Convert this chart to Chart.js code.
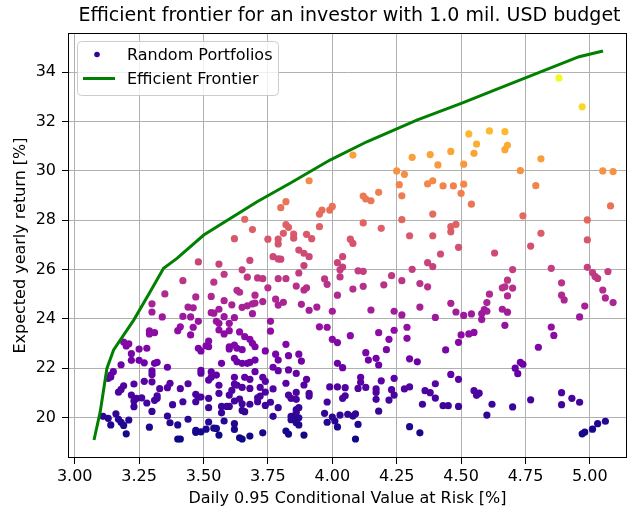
<!DOCTYPE html>
<html>
<head>
<meta charset="utf-8">
<script src="https://cdn.jsdelivr.net/npm/chart.js@4.4.1/dist/chart.umd.min.js"></script>
<style>
  html, body { margin: 0; padding: 0; background: #ffffff; }
  #wrap { width: 635px; height: 512px; position: relative; }
</style>
</head>
<body>
<div id="wrap"><canvas id="chart" width="635" height="512"></canvas></div>
<script>
// ---- text ----
const chartTitle = 'Efficient frontier for an investor with 1.0 mil. USD budget';
const xAxisTitle = 'Daily 0.95 Conditional Value at Risk [%]';
const yAxisTitle = 'Expected yearly return [%]';
const legendLabels = ['Random Portfolios', 'Efficient Frontier'];

// ---- ticks ----
const xTickValues = [3.00, 3.25, 3.50, 3.75, 4.00, 4.25, 4.50, 4.75, 5.00];
const yTickValues = [20, 22, 24, 26, 28, 30, 32, 34];

// ---- random portfolios: daily CVaR [%] and expected yearly return [%] ----
const portfolioRisk = [
  4.88, 4.97, 4.08, 3.91, 4.31, 4.38, 4.41, 4.25, 4.28, 4.26, 4.39, 4.37, 4.18, 4.12, 4.13, 4.15, 4.27, 3.82, 3.80, 3.96,
  3.95, 4.00, 3.99, 4.39, 4.27, 4.12, 4.19, 3.95, 3.82, 3.83, 3.81, 3.85, 3.85, 3.90, 3.92, 3.69, 3.75, 3.79, 4.07, 4.30,
  4.39, 3.66, 3.62,
  4.53, 4.61, 4.67, 4.56, 4.68, 4.67, 4.46, 4.55, 4.81, 4.51, 4.73, 5.05, 5.09, 4.43, 4.47, 4.51, 4.50, 4.79, 4.54, 5.08,
  4.74, 4.99, 4.46, 4.48, 4.46, 4.81, 4.99,
  3.68, 3.48, 3.56, 3.65, 3.58, 3.67, 3.42, 3.54, 3.63, 3.64, 3.35, 3.53, 3.47, 3.58, 3.30, 3.61, 3.44, 3.46, 3.67, 3.69,
  3.70, 3.65, 3.30, 3.56, 3.53, 3.54, 3.69, 3.34, 3.42, 3.45, 3.58, 3.62, 3.55, 3.56, 3.60, 3.48, 3.41, 3.40, 3.46, 3.56,
  3.60, 3.58, 3.64, 3.29, 3.31, 3.29, 3.45, 3.66, 3.68, 3.19, 3.21, 3.20, 3.52, 3.51, 3.60, 3.62, 3.63, 3.28, 3.48, 3.69,
  3.70,
  3.25, 3.22, 3.22, 3.25, 3.27, 3.18, 3.31, 3.32, 3.30, 3.30, 3.36, 3.49, 3.52, 3.49, 3.49, 3.53, 3.53, 3.57, 3.60, 3.65,
  3.62, 3.63, 3.65, 3.67, 3.68, 3.70, 3.15, 3.14, 3.13, 3.14, 3.55, 3.62, 3.66, 3.68, 3.23, 3.27, 3.30, 3.37, 3.44, 3.19,
  3.18, 3.17, 3.52, 3.56, 3.62, 3.63, 3.33, 3.36, 3.41, 3.22, 3.24, 3.23, 3.26, 3.32, 3.32, 3.31, 3.47, 3.48, 3.49, 3.56,
  3.61, 3.60, 3.65, 3.68, 3.28, 3.38, 3.42, 3.47, 3.52, 3.52, 3.57, 3.59, 3.60, 3.62, 3.64, 3.65, 3.68, 3.23, 3.30, 3.11,
  3.13, 3.14, 3.16, 3.17, 3.18, 3.19, 3.21, 3.20, 3.36, 3.37, 3.40, 3.44, 3.29, 3.40, 3.41, 3.47, 3.47, 3.49, 3.51, 3.52,
  3.54, 3.56, 3.57, 3.58, 3.62, 3.62, 3.64, 3.65, 3.68, 3.55, 3.65, 3.66,
  3.79, 3.87, 3.89, 3.91, 3.77, 3.79, 3.80, 3.89, 4.08, 4.04, 4.02, 4.04, 4.03, 4.10, 4.12, 4.31, 4.37, 4.39, 3.87, 3.71,
  3.73, 3.79, 3.82, 3.97, 3.98, 4.03, 4.23, 4.27, 4.34, 4.37, 3.86, 3.75, 3.90, 3.89, 4.08, 4.12, 4.20, 4.02, 3.70, 3.73,
  3.78, 3.79, 3.81, 3.88, 3.91, 3.94, 4.00, 4.15, 4.24, 4.27, 4.34, 4.40, 3.76, 3.76, 3.95, 3.98, 4.07, 4.18, 4.22, 4.24,
  4.29, 4.29, 4.00, 4.02, 3.82,
  3.74, 3.78, 3.79, 3.83, 3.87, 3.88, 3.77, 3.79, 3.70, 3.83, 3.86, 4.02, 4.04, 4.13, 4.14, 4.17, 4.18, 4.21, 4.30, 4.33,
  3.73, 3.74, 3.82, 3.90, 3.89, 4.11, 4.11, 4.19, 4.24, 3.72, 3.77, 3.74, 3.83, 3.84, 3.86, 3.86, 3.91, 3.91, 3.99, 4.02,
  4.05, 4.10, 4.13, 4.17, 4.17, 4.23, 4.24, 4.28, 4.30, 4.36, 4.38, 4.40, 4.40, 3.71, 3.71, 3.72, 3.74, 3.76, 3.79, 3.86,
  3.87, 3.86, 4.04, 4.05, 3.98, 4.17, 4.22, 4.18, 4.35, 3.77, 3.84, 3.85, 3.87, 3.84, 3.86, 3.87, 3.97, 3.98, 4.00, 4.03,
  4.06, 4.08, 4.09, 4.01, 4.02, 4.10, 3.73, 3.82, 3.83, 3.89, 4.09, 4.30, 4.34,
  4.49, 4.42, 4.63, 4.77, 4.70, 4.85, 4.99, 5.01, 5.02, 5.03, 5.07, 4.68, 4.66, 4.67, 4.70, 4.68, 4.61, 4.60, 4.59, 4.60,
  4.89, 4.89, 4.90, 5.05, 5.06, 5.09, 4.46, 4.48, 4.51, 4.54, 4.58, 4.58, 4.66, 4.68, 4.98, 4.96, 4.67, 4.85, 4.86, 4.50,
  4.53, 4.55, 4.49, 4.80, 4.44,
  4.73, 4.74, 4.71, 4.72, 4.46, 4.49, 4.55, 4.57, 4.56, 4.43, 4.45, 4.49, 4.62, 4.70, 4.60, 4.77, 4.89, 4.93, 4.96, 4.89,
  5.06, 5.03, 5.01, 4.98, 4.97
];
const portfolioReturn = [
  33.77, 32.60, 30.64, 29.60, 30.55, 30.66, 30.24, 30.00, 29.86, 29.44, 29.60, 29.47, 29.13, 28.98, 28.86, 28.79, 28.99, 28.75, 28.51, 28.41,
  28.25, 28.56, 28.41, 28.25, 28.02, 27.89, 27.67, 27.74, 27.82, 27.71, 27.47, 27.44, 27.27, 27.43, 27.25, 27.62, 27.23, 27.23, 27.23, 27.37,
  27.37, 28.04, 27.25,
  31.50, 31.62, 31.59, 31.09, 31.04, 30.86, 30.79, 30.71, 30.49, 30.27, 30.01, 30.00, 29.97, 29.39, 29.39, 29.46, 29.09, 29.40, 28.65, 28.58,
  28.18, 28.01, 27.74, 27.83, 27.53, 27.47, 27.20,
  26.37, 26.31, 26.22, 25.99, 25.81, 25.69, 25.55, 25.49, 25.16, 25.08, 25.01, 24.91, 24.89, 24.74, 24.61, 24.57, 24.48, 24.45, 24.53, 24.61,
  24.64, 24.47, 24.28, 24.39, 24.25, 24.23, 24.21, 24.08, 24.10, 24.08, 24.09, 24.05, 23.90, 23.82, 23.82, 23.90, 23.68, 23.52, 23.66, 23.55,
  23.52, 23.39, 23.47, 23.51, 23.44, 23.39, 23.35, 23.28, 23.17, 23.06, 22.99, 22.90, 23.10, 22.91, 22.87, 22.94, 22.81, 22.81, 22.81, 23.01,
  22.87,
  22.78, 22.59, 22.32, 22.32, 22.22, 22.14, 22.20, 22.24, 21.89, 21.75, 22.04, 22.70, 22.87, 21.91, 21.80, 21.85, 21.63, 22.20, 22.78, 22.75,
  22.40, 22.26, 22.20, 22.20, 22.24, 22.33, 21.86, 21.72, 21.59, 21.64, 21.72, 21.63, 21.63, 21.55, 21.36, 21.47, 21.45, 21.39, 21.37, 21.29,
  21.14, 21.03, 21.52, 21.31, 21.36, 21.31, 21.17, 21.21, 21.17, 20.91, 20.78, 20.67, 20.80, 20.88, 20.78, 20.70, 20.94, 20.83, 20.83, 20.98,
  21.10, 20.91, 21.22, 21.18, 20.59, 20.52, 20.64, 20.64, 20.78, 20.40, 20.45, 20.45, 20.45, 20.67, 20.75, 20.56, 20.54, 20.44, 20.25, 20.05,
  19.97, 19.70, 20.15, 19.93, 19.81, 19.68, 19.90, 19.34, 20.06, 19.79, 19.70, 19.93, 19.61, 19.13, 19.13, 19.48, 19.40, 19.42, 19.53, 19.82,
  19.57, 19.29, 20.19, 19.86, 19.75, 19.52, 19.18, 19.13, 19.25, 19.56, 20.29, 20.24,
  27.04, 26.79, 26.66, 26.52, 26.52, 26.43, 26.42, 26.16, 27.06, 26.52, 26.28, 26.10, 25.99, 25.95, 25.93, 26.01, 26.28, 26.12, 25.86, 25.66,
  25.63, 25.63, 25.63, 25.62, 25.40, 25.70, 25.75, 25.55, 25.43, 25.30, 25.33, 25.26, 25.26, 25.17, 25.21, 25.32, 25.38, 24.96, 24.96, 24.70,
  24.80, 24.56, 24.67, 24.59, 24.35, 24.48, 24.31, 24.36, 24.31, 24.16, 24.48, 24.06, 23.90, 23.50, 23.68, 23.66, 23.32, 23.44, 23.17, 23.54,
  23.66, 23.21, 23.17, 23.04, 22.97,
  22.70, 22.57, 22.33, 22.51, 22.57, 22.29, 22.04, 21.90, 21.86, 21.93, 21.79, 22.20, 22.02, 22.63, 22.33, 22.40, 22.13, 22.75, 22.38, 22.26,
  21.63, 21.47, 21.39, 21.55, 21.32, 21.63, 21.43, 21.49, 21.59, 21.22, 21.16, 21.03, 20.91, 20.78, 21.02, 20.74, 20.98, 20.87, 21.24, 21.24,
  21.21, 21.18, 21.22, 21.16, 21.02, 21.13, 20.91, 21.16, 21.24, 21.09, 21.01, 21.37, 20.79, 20.64, 20.80, 20.87, 20.49, 20.62, 20.40, 20.32,
  20.40, 20.21, 20.78, 20.88, 20.63, 20.74, 20.71, 20.26, 20.54, 20.05, 20.05, 19.97, 19.99, 19.91, 19.79, 19.70, 20.17, 19.81, 20.02, 20.10,
  20.13, 20.06, 20.15, 19.86, 19.62, 19.72, 19.38, 19.45, 19.33, 19.29, 19.13, 19.63, 19.38,
  26.90, 26.63, 26.67, 26.95, 26.00, 26.05, 26.09, 25.88, 25.72, 25.64, 25.92, 25.57, 25.26, 25.30, 25.25, 24.93, 25.00, 24.66, 24.38, 24.31,
  25.46, 24.96, 24.77, 25.17, 24.85, 24.66, 24.63, 24.28, 24.14, 24.20, 24.21, 23.97, 24.39, 24.27, 24.52, 24.08, 23.74, 23.67, 23.33, 23.35,
  23.39, 23.45, 23.05, 22.85, 22.74,
  22.24, 22.16, 22.00, 21.78, 21.75, 21.55, 21.09, 20.99, 20.90, 20.48, 20.48, 20.45, 20.54, 20.43, 20.10, 20.72, 21.01, 20.78, 20.62, 20.52,
  19.85, 19.75, 19.53, 19.41, 19.34
];

// ---- efficient frontier ----
const frontierRisk   = [3.075, 3.099, 3.125, 3.151, 3.229, 3.293, 3.345, 3.397, 3.501, 3.708, 3.836, 3.991, 4.134, 4.328, 4.503, 4.632, 4.958, 5.051];
const frontierReturn = [19.09, 20.23, 21.99, 22.74, 23.95, 25.10, 26.05, 26.45, 27.40, 28.75, 29.50, 30.44, 31.18, 32.06, 32.75, 33.28, 34.63, 34.86];

// ---- plasma colour map ----
const plasmaStops = ['#0d0887', '#41049d', '#6a00a8', '#8f0da4', '#b12a90', '#cc4778',
                     '#e16462', '#f2844b', '#fca636', '#fcce25', '#f0f921'];
function hexToRgb(h) {
  return [parseInt(h.slice(1, 3), 16), parseInt(h.slice(3, 5), 16), parseInt(h.slice(5, 7), 16)];
}
function plasma(t) {
  t = Math.max(0, Math.min(1, t));
  const pos = t * (plasmaStops.length - 1);
  const i = Math.min(Math.floor(pos), plasmaStops.length - 2);
  const f = pos - i;
  const a = hexToRgb(plasmaStops[i]), b = hexToRgb(plasmaStops[i + 1]);
  const c = a.map((v, k) => Math.round(v + (b[k] - v) * f));
  return `rgb(${c[0]},${c[1]},${c[2]})`;
}
const retMin = Math.min(...portfolioReturn);
const retMax = Math.max(...portfolioReturn);
const pointColors = portfolioReturn.map(r => plasma((r - retMin) / (retMax - retMin)));

const FONT = "'DejaVu Sans', 'Liberation Sans', sans-serif";

// frame, title, axis titles and legend
const decorPlugin = {
  id: 'decor',
  afterDraw(chart) {
    const { ctx, chartArea: a } = chart;
    ctx.save();
    ctx.strokeStyle = '#000000';
    ctx.lineWidth = 1;
    ctx.strokeRect(Math.round(a.left) + 0.5, Math.round(a.top) + 0.5,
                   Math.round(a.right - a.left) - 1, Math.round(a.bottom - a.top) - 1);

    const cx = (a.left + a.right) / 2;
    ctx.fillStyle = '#000000';
    ctx.textAlign = 'center';
    ctx.textBaseline = 'alphabetic';
    ctx.font = `19px ${FONT}`;
    ctx.fillText(chartTitle, cx + 2, 21);

    ctx.font = `16px ${FONT}`;
    ctx.fillText(xAxisTitle, cx, 503);

    ctx.save();
    ctx.translate(25, (a.top + a.bottom) / 2);
    ctx.rotate(-Math.PI / 2);
    ctx.fillText(yAxisTitle, 0, 0);
    ctx.restore();

    // legend box
    const bx = 77.5, by = 41.5, bw = 201, bh = 54, r = 4;
    ctx.beginPath();
    ctx.moveTo(bx + r, by);
    ctx.lineTo(bx + bw - r, by);
    ctx.quadraticCurveTo(bx + bw, by, bx + bw, by + r);
    ctx.lineTo(bx + bw, by + bh - r);
    ctx.quadraticCurveTo(bx + bw, by + bh, bx + bw - r, by + bh);
    ctx.lineTo(bx + r, by + bh);
    ctx.quadraticCurveTo(bx, by + bh, bx, by + bh - r);
    ctx.lineTo(bx, by + r);
    ctx.quadraticCurveTo(bx, by, bx + r, by);
    ctx.closePath();
    ctx.fillStyle = 'rgba(255,255,255,0.8)';
    ctx.fill();
    ctx.strokeStyle = '#cccccc';
    ctx.stroke();

    ctx.fillStyle = '#330597';
    ctx.beginPath();
    ctx.arc(97, 54.5, 2.8, 0, Math.PI * 2);
    ctx.fill();

    ctx.strokeStyle = '#008000';
    ctx.lineWidth = 3;
    ctx.beginPath();
    ctx.moveTo(83, 78.5);
    ctx.lineTo(115, 78.5);
    ctx.stroke();

    ctx.fillStyle = '#000000';
    ctx.textAlign = 'left';
    ctx.font = `16px ${FONT}`;
    ctx.fillText(legendLabels[0], 127, 59.5);
    ctx.fillText(legendLabels[1], 127, 84);
    ctx.restore();
  }
};

const tickFont = { family: FONT, size: 16 };

new Chart(document.getElementById('chart'), {
  type: 'scatter',
  data: {
    datasets: [
      {
        label: legendLabels[1],
        data: frontierRisk.map((x, i) => ({ x, y: frontierReturn[i] })),
        showLine: true,
        borderColor: '#008000',
        borderWidth: 3,
        pointRadius: 0,
        fill: false,
        tension: 0,
        order: 1
      },
      {
        label: legendLabels[0],
        data: portfolioRisk.map((x, i) => ({ x, y: portfolioReturn[i] })),
        backgroundColor: pointColors,
        borderWidth: 0,
        pointRadius: 3.6,
        order: 2
      }
    ]
  },
  options: {
    responsive: false,
    animation: false,
    devicePixelRatio: 1,
    layout: { padding: { top: 33, right: 8, left: 0, bottom: 0 } },
    plugins: { legend: { display: false }, tooltip: { enabled: false }, title: { display: false } },
    scales: {
      x: {
        type: 'linear',
        min: 2.974,
        max: 5.144,
        afterBuildTicks: s => { s.ticks = xTickValues.map(v => ({ value: v })); },
        afterFit: s => { s.height = 54; },
        ticks: {
          callback: v => Number(v).toFixed(2),
          font: tickFont, color: '#000000', padding: 3,
          autoSkip: false, maxRotation: 0, minRotation: 0
        },
        grid: { color: '#b0b0b0', lineWidth: 1, tickColor: '#000000', tickLength: 6 },
        border: { display: false }
      },
      y: {
        type: 'linear',
        min: 18.36,
        max: 35.59,
        afterBuildTicks: s => { s.ticks = yTickValues.map(v => ({ value: v })); },
        afterFit: s => { s.width = 68; },
        ticks: {
          callback: v => String(v),
          font: tickFont, color: '#000000', padding: 6,
          autoSkip: false
        },
        grid: { color: '#b0b0b0', lineWidth: 1, tickColor: '#000000', tickLength: 6 },
        border: { display: false }
      }
    }
  },
  plugins: [decorPlugin]
});
</script>
</body>
</html>
